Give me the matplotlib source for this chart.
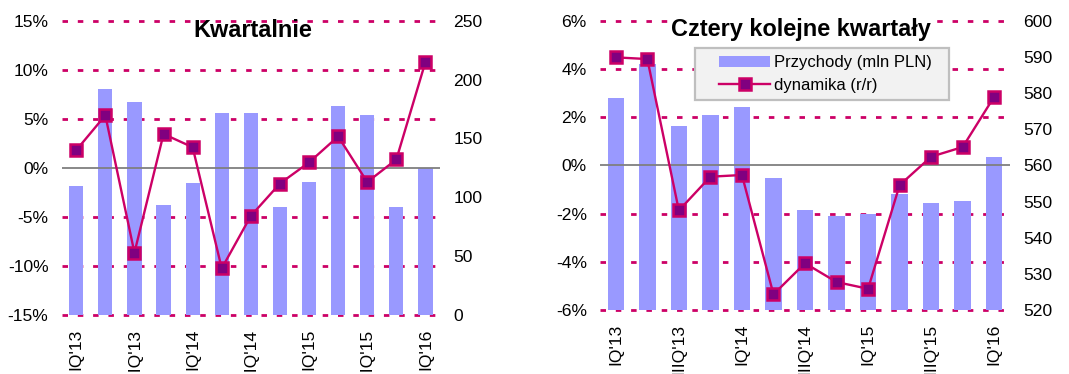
import matplotlib
matplotlib.use("Agg")
import matplotlib.pyplot as plt
from matplotlib.legend_handler import HandlerPatch, HandlerLine2D
from matplotlib.patches import Rectangle
from matplotlib.lines import Line2D

plt.rcParams["font.family"] = ["Liberation Sans", "DejaVu Sans"]

quarters = ["IQ'13", "IIQ'13", "IIIQ'13", "IVQ'13",
            "IQ'14", "IIQ'14", "IIIQ'14", "IVQ'14",
            "IQ'15", "IIQ'15", "IIIQ'15", "IVQ'15",
            "IQ'16"]

# Quarterly revenue (mln PLN) and its y/y change (%)
q_revenue = [109.6, 192.0, 181.0, 93.4, 112.0, 172.0, 171.6, 91.7,
             113.0, 177.5, 170.0, 91.7, 125.0]
q_yoy = [1.8, 5.35, -8.65, 3.45, 2.1, -10.25, -4.9, -1.6,
         0.55, 3.2, -1.45, 0.85, 10.8]

# Trailing four-quarter revenue (mln PLN) and its y/y change (%)
ttm_revenue = [578.6, 588.0, 570.9, 573.9, 576.1, 556.5, 547.6, 546.0,
               546.6, 552.1, 549.6, 550.1, 562.3]
ttm_yoy = [4.48, 4.41, -1.87, -0.47, -0.40, -5.35, -4.06, -4.84,
           -5.12, -0.82, 0.36, 0.76, 2.85]

q_pct_ticks = [-15, -10, -5, 0, 5, 10, 15]
q_rev_ticks = [0, 50, 100, 150, 200, 250]
ttm_pct_ticks = [-6, -4, -2, 0, 2, 4, 6]
ttm_rev_ticks = [520, 530, 540, 550, 560, 570, 580, 590, 600]

BAR_COLOR = "#9999FF"
LINE_COLOR = "#CC0066"
MARKER_FACE = "#800080"
GRID_COLOR = "#CC0066"
ZERO_COLOR = "#7F7F7F"
TICK_FS = 12.6

fig = plt.figure(figsize=(10.69, 3.74), dpi=100)


def panel(rect, revenue, yoy, pct_ticks, rev_ticks, title, title_xy,
          bar_width, title_box):
    x = list(range(len(quarters)))

    # base axes: percent scale, dashed guide lines, left tick labels
    ax = fig.add_axes(rect)
    ax.set_xlim(-0.5, len(quarters) - 0.5)
    ax.set_ylim(pct_ticks[0], pct_ticks[-1])
    for v in pct_ticks:
        if v != 0:
            ax.axhline(v, color=GRID_COLOR, lw=2.0,
                       linestyle=(0, (1.98, 3.53)), zorder=0, clip_on=False)
    ax.set_yticks(pct_ticks)
    ax.set_yticklabels([f"{v}%" for v in pct_ticks])
    ax.set_xticks(x[::2])
    ax.set_xticklabels(quarters[::2], rotation=90, va="top", ha="center")
    ax.tick_params(axis="y", length=0, pad=9.5, labelsize=TICK_FS)
    ax.tick_params(axis="x", length=0, pad=10.0, labelsize=TICK_FS)
    for s in ax.spines.values():
        s.set_visible(False)

    # revenue bars on the right-hand scale
    axb = ax.twinx()
    axb.set_ylim(rev_ticks[0], rev_ticks[-1])
    bars = axb.bar(x, revenue, width=bar_width, color=BAR_COLOR, zorder=1)
    axb.set_yticks(rev_ticks)
    axb.tick_params(axis="y", length=0, pad=9.5, labelsize=TICK_FS)
    for s in axb.spines.values():
        s.set_visible(False)

    # top layer: zero line and y/y change
    axl = fig.add_axes(rect, sharex=ax, sharey=ax)
    axl.patch.set_visible(False)
    axl.axis("off")
    axl.axhline(0, color=ZERO_COLOR, lw=1.3, zorder=1)
    line, = axl.plot(x, yoy, color=LINE_COLOR, lw=1.7, marker="s",
                     markersize=8.5, markerfacecolor=MARKER_FACE,
                     markeredgecolor=LINE_COLOR, markeredgewidth=1.8,
                     zorder=3, clip_on=False)
    kw = {}
    if title_box:
        kw["bbox"] = dict(facecolor="white", edgecolor="none", pad=1.0)
    axl.text(title_xy[0], title_xy[1], title, transform=axl.transAxes,
             ha="center", va="baseline", fontsize=16.9, fontweight="bold",
             zorder=5, **kw)
    return axl, bars, line


panel([0.0577, 0.1578, 0.3539, 0.7869], q_revenue, q_yoy,
      q_pct_ticks, q_rev_ticks, "Kwartalnie", (0.506, 0.943), 0.49, False)

axl, bars, line = panel([0.5613, 0.1711, 0.3835, 0.7735], ttm_revenue, ttm_yoy,
                        ttm_pct_ticks, ttm_rev_ticks, "Cztery kolejne kwartały",
                        (0.489, 0.948), 0.52, True)

leg = axl.legend([bars.patches[0], line],
                 ["Przychody (mln PLN)", "dynamika (r/r)"],
                 loc="upper left", bbox_to_anchor=(0.232, 0.719, 0.619, 0.187),
                 mode="expand", borderaxespad=0.0,
                 fontsize=12, handlelength=4.06, handletextpad=0.25,
                 borderpad=0.45, labelspacing=0.45, fancybox=False,
                 framealpha=1,
                 handler_map={Rectangle: HandlerPatch(xpad=1.0),
                              Line2D: HandlerLine2D(xpad=1.0)})
leg.get_frame().set_facecolor("#F2F2F2")
leg.get_frame().set_edgecolor("#BFBFBF")
leg.get_frame().set_linewidth(1.6)
leg.set_zorder(6)

fig.savefig("out.png", dpi=100)
